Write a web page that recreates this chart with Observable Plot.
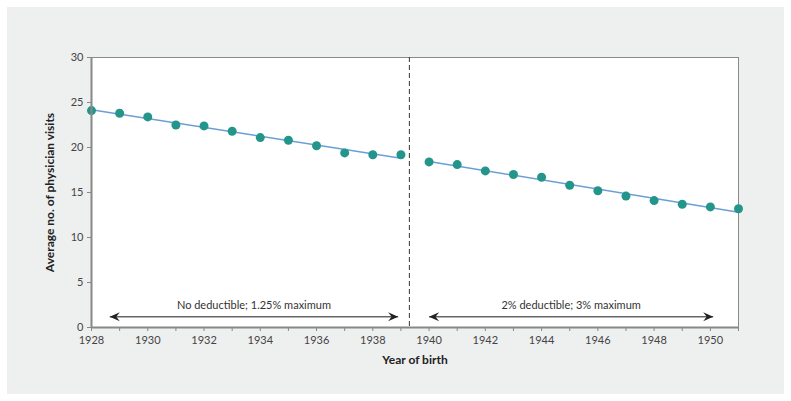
<!DOCTYPE html>
<html><head><meta charset="utf-8">
<script src="https://cdn.jsdelivr.net/npm/d3@7"></script>
<script src="https://cdn.jsdelivr.net/npm/@observablehq/plot@0.6"></script>
<style>
body{margin:0;background:#fff;}
#wrap{position:relative;width:791px;height:401px;}
#panel{position:absolute;left:7px;top:7px;width:777px;height:387px;background:#eeefef;}
#chart{position:absolute;left:0;top:0;}
</style></head><body>
<div id="wrap"><div id="panel"></div><div id="chart"></div></div>
<script>
// Period 1: no deductible
const years1 = [1928,1929,1930,1931,1932,1933,1934,1935,1936,1937,1938,1939];
const visits1 = [24.1,23.8,23.4,22.5,22.4,21.8,21.1,20.8,20.2,19.4,19.2,19.2];
// Period 2: 2% deductible
const years2 = [1940,1941,1942,1943,1944,1945,1946,1947,1948,1949,1950,1951];
const visits2 = [18.4,18.1,17.4,17.0,16.7,15.8,15.2,14.6,14.1,13.7,13.4,13.2];

const xTicks = d3.range(1928, 1952);
const yTicks = [0,5,10,15,20,25,30];
const cutoff = [1939.3];

const periodLabels = ["No deductible; 1.25% maximum", "2% deductible; 3% maximum"];
const arrowFrom = [1928.65, 1940.0];
const arrowTo = [1938.9, 1950.1];
const arrowLevel = 1.2;
const labelLevel = 2.5;

const d1 = years1.map((x,i)=>({x, y: visits1[i]}));
const d2 = years2.map((x,i)=>({x, y: visits2[i]}));
const arrows = periodLabels.map((t,i)=>({t, x1: arrowFrom[i], x2: arrowTo[i], xm: (arrowFrom[i]+arrowTo[i])/2}));

const headRight = {draw(ctx){ctx.moveTo(0,0);ctx.lineTo(-10,-4.5);ctx.lineTo(-6.5,0);ctx.lineTo(-10,4.5);ctx.closePath();}};
const headLeft = {draw(ctx){ctx.moveTo(0,0);ctx.lineTo(10,-4.5);ctx.lineTo(6.5,0);ctx.lineTo(10,4.5);ctx.closePath();}};

const teal = "#24958a";
const blue = "#6a9fd6";

const chart = Plot.plot({
  width: 791, height: 401,
  marginLeft: 91, marginRight: 53, marginTop: 57, marginBottom: 74,
  style: {fontFamily: "Lato, sans-serif", fontSize: "11px", background: "transparent", color: "#444"},
  x: {domain: [1928, 1951], label: null, axis: null},
  y: {domain: [0, 30], label: null, axis: null},
  marks: [
    Plot.frame({fill: "white", stroke: "#8a8a8a"}),
    Plot.linearRegressionY(d1, {x: "x", y: "y", stroke: blue, strokeWidth: 1.5, ci: 0}),
    Plot.linearRegressionY(d2, {x: "x", y: "y", stroke: blue, strokeWidth: 1.5, ci: 0}),
    Plot.dot(d1, {x: "x", y: "y", r: 4.5, fill: teal}),
    Plot.dot(d2, {x: "x", y: "y", r: 4.5, fill: teal}),
    Plot.ruleX(cutoff, {stroke: "#333", strokeDasharray: "5,3", strokeWidth: 1}),
    Plot.link(arrows, {x1: "x1", x2: "x2", y1: () => arrowLevel, y2: () => arrowLevel, stroke: "#666", strokeWidth: 1.5}),
    Plot.dot(arrows, {x: "x1", y: () => arrowLevel, symbol: headLeft, fill: "#222", stroke: "none"}),
    Plot.dot(arrows, {x: "x2", y: () => arrowLevel, symbol: headRight, fill: "#222", stroke: "none"}),
    Plot.text(arrows, {x: "xm", y: () => labelLevel, text: "t", fill: "#333", fontSize: 11}),
    Plot.ruleY([0], {stroke: "#888", strokeWidth: 2}),
    Plot.ruleX([1928], {stroke: "#888", strokeWidth: 2}),
    Plot.axisY({ticks: yTicks, tickSize: 4, tickPadding: 4, stroke: "#888", fill: "#444", fontSize: 11, label: null}),
    Plot.axisX({ticks: xTicks, tickSize: 4, tickPadding: 5, stroke: "#888", fill: "#444", fontSize: 11, label: null,
      tickFormat: d => d % 2 === 0 ? String(d) : ""}),
    Plot.text(["Year of birth"], {frameAnchor: "bottom", dy: 36, fontWeight: "bold", fontSize: 12, fill: "#222"}),
    Plot.text(["Average no. of physician visits"], {frameAnchor: "left", textAnchor: "middle", dx: -41, rotate: -90, fontWeight: "bold", fontSize: 12, fill: "#222"})
  ]
});
document.getElementById("chart").appendChild(chart);
</script>
</body></html>
